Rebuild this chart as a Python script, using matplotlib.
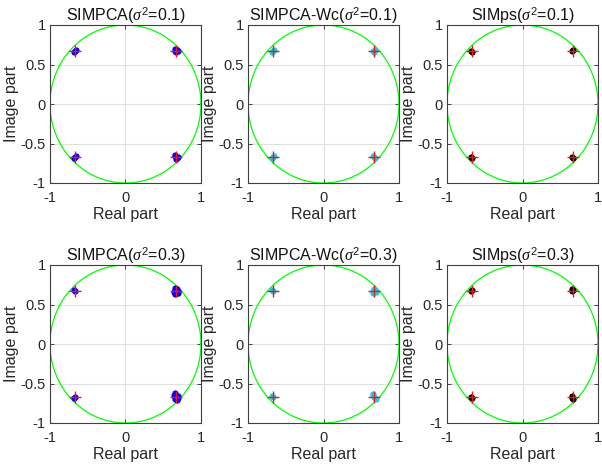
import numpy as np
import matplotlib
matplotlib.use("Agg")
import matplotlib.pyplot as plt

plt.rcParams['font.family'] = ['Liberation Sans', 'DejaVu Sans']
plt.rcParams['mathtext.fontset'] = 'custom'
plt.rcParams['mathtext.it'] = 'Liberation Serif:italic'
plt.rcParams['mathtext.rm'] = 'Liberation Sans'

titles = ["SIMPCA($\\sigma^2$=0.1)", "SIMPCA-Wc($\\sigma^2$=0.1)", "SIMps($\\sigma^2$=0.1)",
          "SIMPCA($\\sigma^2$=0.3)", "SIMPCA-Wc($\\sigma^2$=0.3)", "SIMps($\\sigma^2$=0.3)"]
est_colors = ["#0000ff", "#10d0f0", "#000000", "#0000ff", "#10d0f0", "#000000"]

# true QPSK symbols
true_real = [0.67, -0.67, -0.67, 0.67]
true_imag = [0.67, 0.67, -0.67, -0.67]

# estimated symbols per panel
est_real = [
    [0.66, 0.68, 0.67, 0.69, 0.66, -0.67, -0.68, -0.66, -0.67, -0.68, -0.66, 0.66, 0.68, 0.67, 0.69, 0.66],
    [0.66, 0.68, 0.67, -0.67, -0.68, -0.66, -0.67, -0.68, -0.66, 0.66, 0.68, 0.67],
    [0.66, 0.67, -0.68, -0.67, -0.68, -0.67, 0.66, 0.67],
    [0.64, 0.66, 0.68, 0.70, 0.65, 0.69, 0.67, 0.66, 0.68, -0.67, -0.68, -0.67, -0.68,
     0.64, 0.66, 0.68, 0.70, 0.65, 0.69, 0.67, 0.66, 0.68],
    [0.65, 0.67, 0.69, 0.66, 0.68, -0.67, -0.68, -0.67, -0.68, 0.65, 0.67, 0.69, 0.66, 0.68],
    [0.65, 0.66, 0.67, -0.68, -0.67, -0.68, -0.67, 0.65, 0.66, 0.67],
]
est_imag = [
    [0.67, 0.68, 0.66, 0.67, 0.69, 0.67, 0.66, 0.68, -0.67, -0.68, -0.66, -0.66, -0.68, -0.69, -0.67, -0.65],
    [0.67, 0.68, 0.66, 0.67, 0.66, 0.68, -0.67, -0.68, -0.66, -0.66, -0.68, -0.67],
    [0.67, 0.68, 0.67, 0.66, -0.67, -0.68, -0.67, -0.68],
    [0.66, 0.68, 0.70, 0.67, 0.71, 0.64, 0.69, 0.63, 0.65, 0.67, 0.68, -0.67, -0.68,
     -0.65, -0.67, -0.70, -0.66, -0.62, -0.68, -0.64, -0.69, -0.71],
    [0.67, 0.69, 0.66, 0.64, 0.68, 0.67, 0.68, -0.67, -0.66, -0.65, -0.67, -0.69, -0.63, -0.68],
    [0.67, 0.69, 0.68, 0.67, 0.68, -0.67, -0.68, -0.66, -0.68, -0.69],
]

fig = plt.figure(figsize=(6.02, 4.67), dpi=100)
lefts = [50, 248, 447]
tops = [25, 265]
W, H = 151, 158
theta = np.linspace(0, 2 * np.pi, 400)
for i in range(6):
    r, c = divmod(i, 3)
    l = lefts[c] / 602
    b = (467 - tops[r] - H) / 467
    ax = fig.add_axes([l, b, W / 602, H / 467])
    ax.plot(np.cos(theta), np.sin(theta), color='#00ff00', lw=0.9, zorder=2)
    ax.scatter(est_real[i], est_imag[i], s=20, color=est_colors[i], marker='o', lw=0, zorder=3)
    ax.plot(true_real, true_imag, '+', color='#ff1010', ms=8, mew=1.0, ls='none', zorder=4)
    ax.set_xlim(-1, 1)
    ax.set_ylim(-1, 1)
    ax.set_xticks([-1, 0, 1])
    ax.set_xticklabels(['-1', '0', '1'])
    ax.set_yticks([-1, -0.5, 0, 0.5, 1])
    ax.set_yticklabels(['-1', '-0.5', '0', '0.5', '1'])
    ax.grid(True, color='#e0e0e0', lw=0.8, zorder=0)
    ax.set_axisbelow(True)
    ax.tick_params(direction='in', length=3, width=0.6, top=True, right=True,
                   labelsize=10.5, colors='#262626', pad=3)
    ax.tick_params(axis='x', pad=6)
    for s in ax.spines.values():
        s.set_color('#404040')
        s.set_linewidth(0.8)
    ax.set_title(titles[i], fontsize=11.5, color='#111111', pad=3)
    ax.set_xlabel('Real part', fontsize=11.5, color='#262626', labelpad=1)
    ax.set_ylabel('Image part', fontsize=11.5, color='#262626', labelpad=1)

fig.savefig('out.png', dpi=100)
